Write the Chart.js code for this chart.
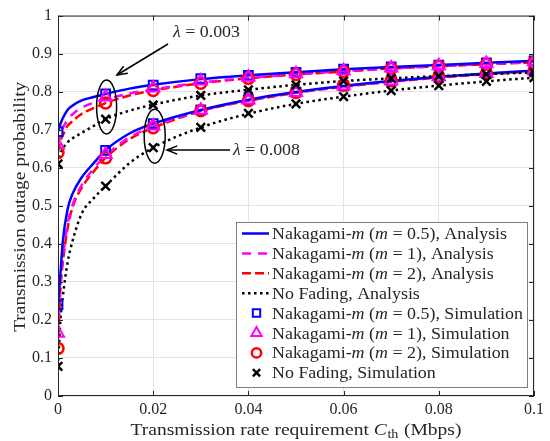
<!DOCTYPE html>
<html><head><meta charset="utf-8">
<script src="https://cdn.jsdelivr.net/npm/chart.js@4/dist/chart.umd.min.js"></script>
<style>html,body{margin:0;padding:0;background:#fff}</style>
</head><body>
<canvas id="c" width="550" height="441"></canvas>
<script>
// ---------- DATA ----------
const xAnalysis = [0, 0.0005, 0.001, 0.002, 0.003, 0.005, 0.0075, 0.01, 0.015, 0.02, 0.03, 0.04, 0.05, 0.06, 0.07, 0.08, 0.09, 0.1];
const xSim = [0, 0.01, 0.02, 0.03, 0.04, 0.05, 0.06, 0.07, 0.08, 0.09, 0.1];
const xTickLabels = ['0', '0.02', '0.04', '0.06', '0.08', '0.1'];
const yTickLabels = ['0', '0.1', '0.2', '0.3', '0.4', '0.5', '0.6', '0.7', '0.8', '0.9', '1'];

// lambda = 0.003 (upper group), analysis
const anaM05_L003 = [0.695, 0.715, 0.730, 0.752, 0.763, 0.777, 0.786, 0.794, 0.808, 0.818, 0.833, 0.843, 0.851, 0.859, 0.865, 0.870, 0.876, 0.881];
const anaM1_L003  = [0.660, 0.690, 0.705, 0.725, 0.740, 0.758, 0.771, 0.780, 0.795, 0.806, 0.824, 0.836, 0.846, 0.854, 0.861, 0.867, 0.873, 0.878];
const anaM2_L003  = [0.640, 0.670, 0.685, 0.710, 0.722, 0.742, 0.757, 0.770, 0.790, 0.803, 0.822, 0.835, 0.845, 0.853, 0.861, 0.867, 0.872, 0.877];
const anaNF_L003  = [0.610, 0.635, 0.650, 0.667, 0.677, 0.692, 0.710, 0.728, 0.750, 0.766, 0.790, 0.805, 0.818, 0.828, 0.835, 0.841, 0.846, 0.851];
// lambda = 0.008 (lower group), analysis
const anaM05_L008 = [0.240, 0.320, 0.405, 0.490, 0.530, 0.575, 0.612, 0.646, 0.690, 0.716, 0.752, 0.779, 0.799, 0.815, 0.828, 0.839, 0.848, 0.855];
const anaM1_L008  = [0.165, 0.290, 0.360, 0.450, 0.500, 0.555, 0.598, 0.632, 0.680, 0.709, 0.750, 0.777, 0.798, 0.814, 0.827, 0.838, 0.847, 0.854];
const anaM2_L008  = [0.125, 0.280, 0.350, 0.440, 0.494, 0.548, 0.590, 0.626, 0.675, 0.705, 0.749, 0.776, 0.797, 0.813, 0.826, 0.837, 0.846, 0.853];
const anaNF_L008  = [0.078, 0.198, 0.260, 0.350, 0.405, 0.480, 0.520, 0.552, 0.612, 0.653, 0.706, 0.742, 0.768, 0.787, 0.803, 0.816, 0.827, 0.837];

// simulation
const simM05_L003 = [0.695, 0.794, 0.817, 0.834, 0.843, 0.851, 0.859, 0.865, 0.870, 0.876, 0.881];
const simM1_L003  = [0.660, 0.786, 0.810, 0.828, 0.838, 0.847, 0.855, 0.862, 0.868, 0.874, 0.879];
const simM2_L003  = [0.640, 0.770, 0.803, 0.822, 0.835, 0.845, 0.853, 0.861, 0.867, 0.872, 0.877];
const simNF_L003  = [0.610, 0.728, 0.765, 0.790, 0.805, 0.818, 0.828, 0.835, 0.841, 0.846, 0.851];
const simM05_L008 = [0.240, 0.646, 0.716, 0.752, 0.779, 0.799, 0.815, 0.828, 0.839, 0.848, 0.855];
const simM1_L008  = [0.165, 0.635, 0.710, 0.751, 0.778, 0.798, 0.815, 0.828, 0.839, 0.848, 0.855];
const simM2_L008  = [0.125, 0.626, 0.705, 0.750, 0.776, 0.798, 0.817, 0.829, 0.839, 0.847, 0.854];
const simNF_L008  = [0.078, 0.552, 0.653, 0.706, 0.743, 0.768, 0.787, 0.803, 0.816, 0.827, 0.837];

const legendLabels = [
  [['Nakagami-',0],['m',1],[' (',0],['m',1],[' = 0.5), Analysis',0]],
  [['Nakagami-',0],['m',1],[' (',0],['m',1],[' = 1), Analysis',0]],
  [['Nakagami-',0],['m',1],[' (',0],['m',1],[' = 2), Analysis',0]],
  [['No Fading, Analysis',0]],
  [['Nakagami-',0],['m',1],[' (',0],['m',1],[' = 0.5), Simulation',0]],
  [['Nakagami-',0],['m',1],[' (',0],['m',1],[' = 1), Simulation',0]],
  [['Nakagami-',0],['m',1],[' (',0],['m',1],[' = 2), Simulation',0]],
  [['No Fading, Simulation',0]]
];
const lambdaLabels = ['0.003', '0.008'];
const xTitleParts = [['Transmission rate requirement ',0,0],['C',1,0],['th',0,1],[' (Mbps)',0,0]];
const yTitle = 'Transmission outage probability';

// ---------- STYLES ----------
const FONT = "'Liberation Serif', 'Times New Roman', serif";
const TXT = '#262626';
const styles = {
  m05: {color:'#0000ff', dash:[], width:2.5, point:'rect', radius:6.2, pw:2},
  m1:  {color:'#ff00ff', dash:[9,7], width:2.5, point:'triangle', radius:7, pw:2},
  m2:  {color:'#ff0000', dash:[9,4], width:2.5, point:'circle', radius:5.5, pw:2.5},
  nf:  {color:'#000000', dash:[2.5,3.5], width:2.5, point:'crossRot', radius:6, pw:2.5}
};
const toPts = (xs, ys) => xs.map((x,i)=>({x:x, y:ys[i]}));
function lineDS(ys, st){
  return {data: toPts(xAnalysis, ys), showLine:true, borderColor:st.color, borderWidth:st.width,
    borderDash:st.dash, pointRadius:0, fill:false, cubicInterpolationMode:'monotone', order:20};
}
function simDS(ys, st, ord){
  return {data: toPts(xSim, ys), showLine:false, pointStyle:st.point, pointRadius:st.radius,
    pointBorderColor:st.color, pointBackgroundColor:'rgba(0,0,0,0)', pointBorderWidth:st.pw, order:ord};
}
const datasets = [
  lineDS(anaM05_L003, styles.m05), lineDS(anaM1_L003, styles.m1), lineDS(anaM2_L003, styles.m2), lineDS(anaNF_L003, styles.nf),
  lineDS(anaM05_L008, styles.m05), lineDS(anaM1_L008, styles.m1), lineDS(anaM2_L008, styles.m2), lineDS(anaNF_L008, styles.nf),
  simDS(simM05_L003, styles.m05, 5), simDS(simM1_L003, styles.m1, 3), simDS(simM2_L003, styles.m2, 4), simDS(simNF_L003, styles.nf, 2),
  simDS(simM05_L008, styles.m05, 5), simDS(simM1_L008, styles.m1, 3), simDS(simM2_L008, styles.m2, 4), simDS(simNF_L008, styles.nf, 2)
];

function drawMarker(ctx, st, x, y){
  ctx.save();
  ctx.strokeStyle = st.color; ctx.lineWidth = st.pw; ctx.setLineDash([]);
  const r = st.radius;
  ctx.beginPath();
  if (st.point === 'rect'){ const s = Math.SQRT1_2*r; ctx.rect(x-s, y-s, 2*s, 2*s); }
  else if (st.point === 'circle'){ ctx.arc(x, y, r, 0, Math.PI*2); }
  else if (st.point === 'triangle'){
    ctx.moveTo(x, y - r);
    ctx.lineTo(x + Math.sin(2*Math.PI/3)*r, y - Math.cos(2*Math.PI/3)*r);
    ctx.lineTo(x + Math.sin(4*Math.PI/3)*r, y - Math.cos(4*Math.PI/3)*r);
    ctx.closePath();
  } else if (st.point === 'crossRot'){
    const s = Math.cos(Math.PI/4)*r;
    ctx.moveTo(x-s, y-s); ctx.lineTo(x+s, y+s); ctx.moveTo(x-s, y+s); ctx.lineTo(x+s, y-s);
  }
  ctx.stroke();
  ctx.restore();
}
// parts: [text, italic, subscript]
function richWidth(ctx, parts, size){
  let w = 0;
  for (const p of parts){
    const s = p[2] ? size*0.72 : size;
    ctx.font = (p[1] ? 'italic ' : '') + s + 'px ' + FONT;
    w += ctx.measureText(p[0]).width + (p[2] ? 1 : 0);
  }
  return w;
}
function drawRich(ctx, parts, x, y, size, sx){
  ctx.save();
  ctx.translate(x, y); ctx.scale(sx, 1);
  let cx = 0;
  for (const p of parts){
    const s = p[2] ? size*0.72 : size;
    ctx.font = (p[1] ? 'italic ' : '') + s + 'px ' + FONT;
    ctx.fillText(p[0], cx + (p[2]?0.5:0), p[2] ? size*0.2 : 0);
    cx += ctx.measureText(p[0]).width + (p[2] ? 1 : 0);
  }
  ctx.restore();
}
function arrow(ctx, x1, y1, x2, y2){
  ctx.beginPath(); ctx.moveTo(x1,y1); ctx.lineTo(x2,y2); ctx.stroke();
  const a = Math.atan2(y2-y1, x2-x1), L = 11, w = 0.38;
  ctx.beginPath();
  ctx.moveTo(x2 - L*Math.cos(a-w), y2 - L*Math.sin(a-w));
  ctx.lineTo(x2, y2);
  ctx.lineTo(x2 - L*Math.cos(a+w), y2 - L*Math.sin(a+w));
  ctx.stroke();
}

const decor = {
  id:'decor',
  afterDatasetsDraw(chart){
    const ctx = chart.ctx, a = chart.chartArea, xs = chart.scales.x, ys = chart.scales.y;
    ctx.save();
    // box
    ctx.strokeStyle = TXT; ctx.lineWidth = 1; ctx.setLineDash([]);
    ctx.strokeRect(a.left+0.5, a.top+0.5, a.right-a.left-1, a.bottom-a.top-1);
    // inward ticks
    ctx.beginPath();
    xs.ticks.forEach(t=>{ const p = Math.round(xs.getPixelForValue(t.value))+0.5;
      ctx.moveTo(p, a.bottom); ctx.lineTo(p, a.bottom-5); ctx.moveTo(p, a.top); ctx.lineTo(p, a.top+5); });
    ys.ticks.forEach(t=>{ const p = Math.round(ys.getPixelForValue(t.value))+0.5;
      ctx.moveTo(a.left, p); ctx.lineTo(a.left+5, p); ctx.moveTo(a.right, p); ctx.lineTo(a.right-5, p); });
    ctx.stroke();
    // annotations
    ctx.strokeStyle = '#000'; ctx.lineWidth = 1.5;
    ctx.beginPath(); ctx.ellipse(xs.getPixelForValue(0.01)+1, ys.getPixelForValue(0.76), 10, 27, 0, 0, Math.PI*2); ctx.stroke();
    ctx.beginPath(); ctx.ellipse(xs.getPixelForValue(0.02)+1.5, ys.getPixelForValue(0.683), 10.5, 27, 0, 0, Math.PI*2); ctx.stroke();
    arrow(ctx, 168, 44, 117, 75);
    arrow(ctx, 230, 150, 167, 150);
    ctx.fillStyle = TXT; ctx.textBaseline = 'alphabetic'; ctx.textAlign = 'left';
    const l1 = [['λ',1],[' = '+lambdaLabels[0],0]], l2 = [['λ',1],[' = '+lambdaLabels[1],0]];
    const sl = 67 / richWidth(ctx, l1, 16);
    drawRich(ctx, l1, 173, 37, 16, sl);
    drawRich(ctx, l2, 233, 155, 16, sl);
    // legend
    const L = {x:236, y:222, w:291, h:165};
    ctx.fillStyle = '#fff'; ctx.fillRect(L.x, L.y, L.w, L.h);
    ctx.strokeStyle = '#7f7f7f'; ctx.lineWidth = 1; ctx.strokeRect(L.x+0.5, L.y+0.5, L.w, L.h);
    const sts = [styles.m05, styles.m1, styles.m2, styles.nf];
    const sLeg = 251 / richWidth(ctx, legendLabels[4], 16);
    for (let i=0;i<8;i++){
      const cy = 233.5 + i*19.9;
      const st = sts[i%4];
      if (i<4){
        ctx.strokeStyle = st.color; ctx.lineWidth = st.width; ctx.setLineDash(st.dash);
        ctx.beginPath(); ctx.moveTo(242, cy); ctx.lineTo(269, cy); ctx.stroke(); ctx.setLineDash([]);
      } else {
        const s2 = Object.assign({}, st, {radius: st.radius*0.85});
        drawMarker(ctx, s2, 256.5, cy);
      }
      ctx.fillStyle = TXT;
      drawRich(ctx, legendLabels[i], 272, cy+5.5, 16, sLeg);
    }
    // x title
    ctx.fillStyle = TXT;
    const wx = richWidth(ctx, xTitleParts, 17), sxT = 331 / wx;
    drawRich(ctx, xTitleParts, (a.left+a.right)/2 - 331/2, 435, 17, sxT);
    // y title
    ctx.save();
    ctx.translate(25, (a.top+a.bottom)/2 + 1);
    ctx.rotate(-Math.PI/2);
    const wy = richWidth(ctx, [[yTitle,0]], 17), syT = 250 / wy;
    drawRich(ctx, [[yTitle,0]], -125, 0, 17, syT);
    ctx.restore();
    ctx.restore();
  }
};

new Chart(document.getElementById('c'), {
  type:'scatter',
  data:{datasets},
  options:{
    responsive:false, animation:false, devicePixelRatio:1,
    layout:{padding:{top:13, right:16, left:0, bottom:0}},
    plugins:{legend:{display:false}, tooltip:{enabled:false}},
    scales:{
      x:{type:'linear', min:0, max:0.1,
         ticks:{stepSize:0.02, color:TXT, font:{family:FONT, size:16}, padding:4, maxRotation:0,
                callback:(v)=>xTickLabels[Math.round(v/0.02)]},
         grid:{color:'#e3e3e3', drawTicks:false}, border:{display:false},
         afterFit:(s)=>{s.height = 45;}},
      y:{min:0, max:1,
         ticks:{stepSize:0.1, color:TXT, font:{family:FONT, size:16}, padding:6,
                callback:(v)=>yTickLabels[Math.round(v/0.1)]},
         grid:{color:'#e3e3e3', drawTicks:false}, border:{display:false},
         afterFit:(s)=>{s.width = 58;}}
    }
  },
  plugins:[decor]
});
</script>
</body></html>
